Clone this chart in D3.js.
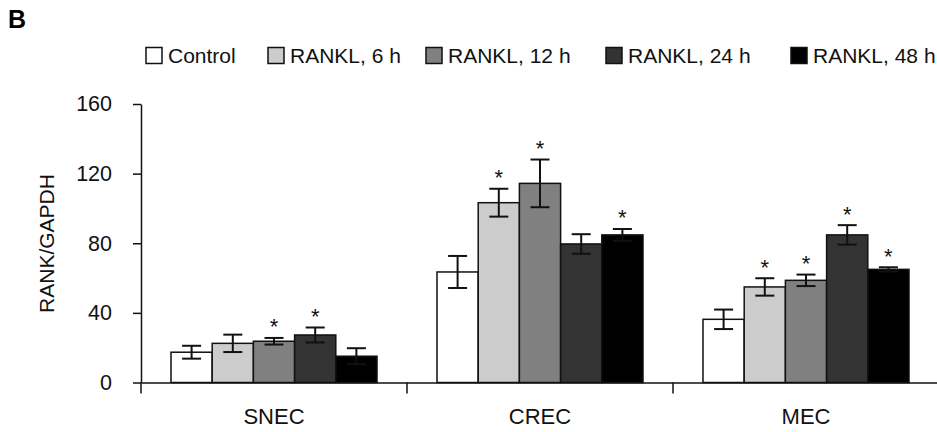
<!DOCTYPE html>
<html>
<head>
<meta charset="utf-8">
<script src="https://cdn.jsdelivr.net/npm/d3@7"></script>
<style>
  html, body { margin: 0; padding: 0; background: #fff; }
  svg { display: block; font-family: "Liberation Sans", Arial, sans-serif; }
</style>
</head>
<body>
<svg id="chart" width="937" height="432"></svg>
<script>
const categories = ["SNEC", "CREC", "MEC"];
const seriesNames = ["Control", "RANKL, 6 h", "RANKL, 12 h", "RANKL, 24 h", "RANKL, 48 h"];
const seriesColors = ["#ffffff", "#cccccc", "#808080", "#333333", "#000000"];
const meanSNEC = [17.4, 22.5, 23.7, 27.3, 15.1];
const errSNEC  = [3.7, 5.0, 1.9, 4.3, 4.6];
const meanCREC = [63.5, 103.3, 114.4, 79.6, 84.8];
const errCREC  = [9.2, 8.0, 13.7, 5.6, 3.4];
const meanMEC  = [36.3, 54.9, 58.7, 84.8, 65.0];
const errMEC   = [5.6, 5.0, 3.3, 5.6, 1.2];
const sigSNEC = [false, false, true, true, false];
const sigCREC = [false, true, true, false, true];
const sigMEC  = [false, true, true, true, true];
const yTicks = [0, 40, 80, 120, 160];
const yLabel = "RANK/GAPDH";
const panelLabel = "B";

const means = [meanSNEC, meanCREC, meanMEC];
const errs = [errSNEC, errCREC, errMEC];
const sigs = [sigSNEC, sigCREC, sigMEC];

const rows = [];
categories.forEach((c, i) => {
  seriesNames.forEach((s, j) => {
    rows.push({cat: c, series: s, idx: j, v: means[i][j], e: errs[i][j], sig: sigs[i][j]});
  });
});

const svg = d3.select("#chart");

const x0 = d3.scaleBand().domain(categories).range([141, 939]).padding(0);
const x1 = d3.scaleBand().domain(seriesNames).range([30, x0.bandwidth() - 30]).padding(0);
const y = d3.scaleLinear().domain([0, 160]).range([382.5, 104]);
const color = d3.scaleOrdinal().domain(seriesNames).range(seriesColors);

// Bars
svg.append("g").selectAll("rect").data(rows).join("rect")
  .attr("x", d => x0(d.cat) + x1(d.series))
  .attr("y", d => y(d.v))
  .attr("width", x1.bandwidth())
  .attr("height", d => y(0) - y(d.v))
  .attr("fill", d => color(d.series))
  .attr("stroke", "#111")
  .attr("stroke-width", 1.5);

// Error bars
const eb = svg.append("g").attr("stroke", "#111").attr("stroke-width", 2);
rows.forEach(d => {
  const cx = x0(d.cat) + x1(d.series) + x1.bandwidth() / 2;
  const hw = 9.5;
  eb.append("line").attr("x1", cx).attr("x2", cx).attr("y1", y(d.v + d.e)).attr("y2", y(d.v - d.e));
  eb.append("line").attr("x1", cx - hw).attr("x2", cx + hw).attr("y1", y(d.v + d.e)).attr("y2", y(d.v + d.e));
  eb.append("line").attr("x1", cx - hw).attr("x2", cx + hw).attr("y1", y(d.v - d.e)).attr("y2", y(d.v - d.e));
});

// Stars
svg.append("g").selectAll("text").data(rows.filter(d => d.sig)).join("text")
  .attr("x", d => x0(d.cat) + x1(d.series) + x1.bandwidth() / 2)
  .attr("y", d => y(d.v + d.e) - 3.5)
  .attr("text-anchor", "middle")
  .attr("font-size", 22)
  .attr("fill", "#111")
  .text("*");

// Y axis
const yAxis = svg.append("g").attr("transform", "translate(141,0)")
  .call(d3.axisLeft(y).tickValues(yTicks).tickSize(8).tickPadding(21).tickSizeOuter(0));
yAxis.select(".domain").attr("stroke", "#111").attr("stroke-width", 1.5);
yAxis.selectAll(".tick line").attr("stroke", "#111").attr("stroke-width", 1.5);
yAxis.selectAll(".tick text").attr("font-size", 21.5).attr("fill", "#111")
  .attr("font-family", "Liberation Sans, Arial, sans-serif");

// X axis
const xAxis = svg.append("g").attr("transform", "translate(0," + y(0) + ")")
  .call(d3.axisBottom(x0).tickSize(0).tickPadding(26).tickSizeOuter(0));
xAxis.select(".domain").attr("stroke", "#111").attr("stroke-width", 1.5);
xAxis.selectAll(".tick text").attr("font-size", 22).attr("fill", "#111")
  .attr("font-family", "Liberation Sans, Arial, sans-serif");
// boundary ticks between categories
svg.append("g").selectAll("line").data(categories).join("line")
  .attr("x1", d => x0(d)).attr("x2", d => x0(d))
  .attr("y1", y(0)).attr("y2", y(0) + 11)
  .attr("stroke", "#111").attr("stroke-width", 1.5);

// Y label
svg.append("text")
  .attr("transform", "translate(53.5," + 243.5 + ") rotate(-90)")
  .attr("text-anchor", "middle")
  .attr("font-size", 21)
  .attr("fill", "#111")
  .text(yLabel);

// Panel label
svg.append("text").attr("x", 8).attr("y", 27.5)
  .attr("font-size", 25).attr("font-weight", "bold").attr("fill", "#000")
  .text(panelLabel);

// Legend
const legendX = [146, 268, 426, 606, 791];
const lg = svg.append("g");
seriesNames.forEach((s, i) => {
  lg.append("rect").attr("x", legendX[i]).attr("y", 47.5).attr("width", 16).attr("height", 16)
    .attr("fill", color(s)).attr("stroke", "#111").attr("stroke-width", 1.5);
  lg.append("text").attr("x", legendX[i] + 22).attr("y", 63.3)
    .attr("font-size", 21).attr("fill", "#111").text(s);
});
</script>
</body>
</html>
